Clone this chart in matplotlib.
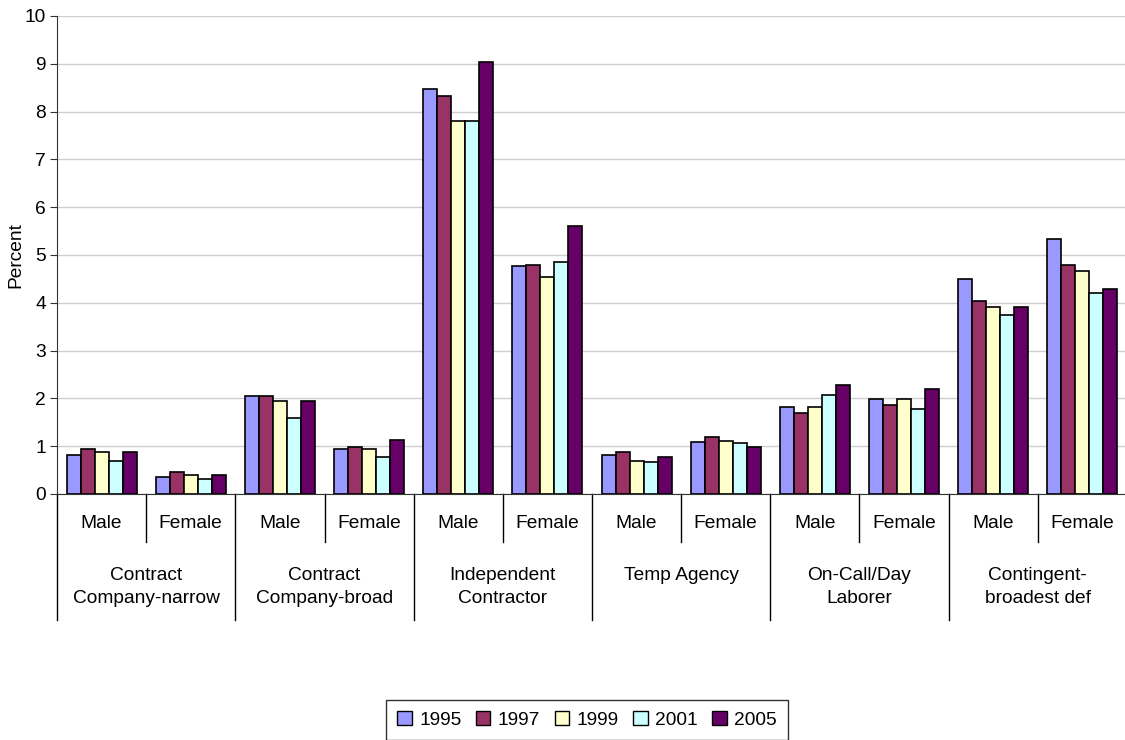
import matplotlib
matplotlib.use("Agg")
import matplotlib.pyplot as plt
from matplotlib.patches import Patch
import matplotlib.transforms as mtransforms
import numpy as np

plt.rcParams['font.family'] = ['Liberation Sans', 'DejaVu Sans']

groups = ["Contract\nCompany-narrow", "Contract\nCompany-broad", "Independent\nContractor",
          "Temp Agency", "On-Call/Day\nLaborer", "Contingent-\nbroadest def"]
sexes = ["Male", "Female"]
years = ["1995", "1997", "1999", "2001", "2005"]
colors = ["#9999FF", "#993366", "#FFFFCC", "#CCFFFF", "#660066"]

# values per year, across 12 categories (group x sex)
v1995 = [0.82, 0.36, 2.04, 0.95, 8.48, 4.76, 0.82, 1.08, 1.82, 1.99, 4.50, 5.33]
v1997 = [0.95, 0.45, 2.04, 0.99, 8.32, 4.80, 0.87, 1.20, 1.70, 1.86, 4.04, 4.79]
v1999 = [0.87, 0.40, 1.95, 0.95, 7.81, 4.55, 0.70, 1.11, 1.82, 1.99, 3.92, 4.67]
v2001 = [0.70, 0.32, 1.58, 0.77, 7.81, 4.85, 0.66, 1.07, 2.07, 1.78, 3.75, 4.21]
v2005 = [0.87, 0.40, 1.95, 1.12, 9.03, 5.60, 0.78, 0.99, 2.28, 2.20, 3.92, 4.29]
series = [v1995, v1997, v1999, v2001, v2005]

FS = 13.8

fig = plt.figure(figsize=(11.25, 7.4), dpi=100)
ax = fig.add_axes([57/1125, 1-494/740, 1070/1125, 478/740])

n = len(groups) * len(sexes)
centers = np.arange(n) + 0.5
bw = 0.157
for k, (vals, c) in enumerate(zip(series, colors)):
    ax.bar(centers + (k - 2) * bw, vals, width=bw, color=c, edgecolor='black',
           linewidth=1.2, zorder=3)

ax.set_xlim(0, n)
ax.set_ylim(0, 10)
ax.set_yticks(range(0, 11))
ax.yaxis.grid(True, color='#cfcfcf', linewidth=1, zorder=0)
ax.axhline(10, color='#888888', linewidth=1.2, zorder=1)
ax.set_xticks([])
for s in ['top', 'right']:
    ax.spines[s].set_visible(False)
ax.spines['left'].set_color('#333333')
ax.spines['bottom'].set_color('#333333')
ax.tick_params(axis='y', direction='out', length=5, labelsize=FS, color='#333333', pad=3)
ax.set_ylabel("Percent", fontsize=FS, labelpad=0)

trans = mtransforms.blended_transform_factory(ax.transData, ax.transAxes)
ah = 478.0
def ya(px):
    return -(px - 494) / ah

for i in range(n + 1):
    bottom = ya(620) if i % 2 == 0 else ya(542)
    ax.plot([i, i], [0, bottom], transform=trans, color='black', linewidth=1, clip_on=False)
for i in range(n):
    ax.text(centers[i], ya(523), sexes[i % 2], transform=trans, ha='center', va='center',
            fontsize=FS)
for g, name in enumerate(groups):
    ypos = ya(587) if "\n" in name else ya(575)
    ax.text(2 * g + 1, ypos, name, transform=trans, ha='center', va='center',
            fontsize=FS, linespacing=1.4)

handles = [Patch(facecolor=c, edgecolor='black', linewidth=1) for c in colors]
leg = fig.legend(handles, years, loc='center', bbox_to_anchor=(587/1125, 1-720/740), ncol=5,
                 frameon=True, fancybox=False, edgecolor='black', fontsize=FS,
                 handlelength=0.75, handleheight=0.75, handletextpad=0.4, columnspacing=0.75,
                 borderpad=0.6)
leg.get_frame().set_linewidth(1)

fig.savefig("out.png", dpi=100)
